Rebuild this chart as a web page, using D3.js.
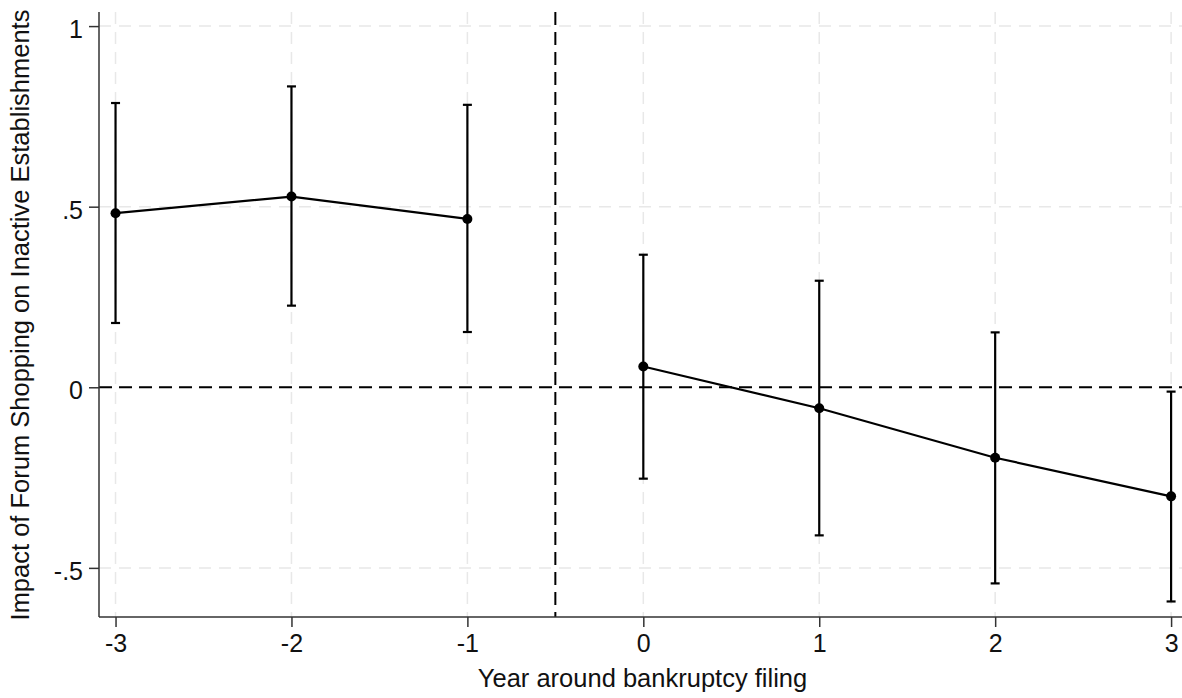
<!DOCTYPE html>
<html>
<head>
<meta charset="utf-8">
<script src="https://cdn.jsdelivr.net/npm/d3@7"></script>
<style>
  body { margin: 0; background: #fff; }
  svg { display: block; }
</style>
</head>
<body>
<svg width="1182" height="698"></svg>
<script>
  // event-study estimates
  var years = [-3, -2, -1, 0, 1, 2, 3]
  var coef  = [0.482, 0.528, 0.466, 0.0575, -0.058, -0.195, -0.302]
  var upper = [0.787, 0.833, 0.782, 0.367, 0.295, 0.152, -0.012]
  var lower = [0.178, 0.226, 0.153, -0.253, -0.410, -0.543, -0.593]
  var yTicks = [-0.5, 0, 0.5, 1]
  var yTickLabels = ["-.5", "0", ".5", "1"]

  var width = 1182
  var height = 698
  var margin = {top: 12, right: 0, bottom: 81, left: 99}

  var x = d3.scaleLinear([-3.094, 3.062], [margin.left, width - margin.right])
  var y = d3.scaleLinear([-0.636, 1.039], [height - margin.bottom, margin.top])

  var data = years.map((d, i) => ({year: d, b: coef[i], hi: upper[i], lo: lower[i]}))

  var svg = d3.select("svg")
    .style("font-family", "'Liberation Sans', Arial, Helvetica, sans-serif")

  // light dashed grid
  var grid = svg.append("g")
    .attr("stroke", "#e8e8e8")
    .attr("stroke-width", 1.5)
    .attr("stroke-dasharray", "12,8")
  grid.selectAll(".gy")
    .data(yTicks)
    .join("line")
    .attr("x1", margin.left).attr("x2", width)
    .attr("y1", d => y(d)).attr("y2", d => y(d))
  grid.selectAll(".gx")
    .data(years)
    .join("line")
    .attr("x1", d => x(d)).attr("x2", d => x(d))
    .attr("y1", margin.top).attr("y2", height - margin.bottom)

  // reference lines
  svg.append("line")
    .attr("x1", margin.left).attr("x2", width)
    .attr("y1", y(0)).attr("y2", y(0))
    .attr("stroke", "#000").attr("stroke-width", 2)
    .attr("stroke-dasharray", "13,7")
  svg.append("line")
    .attr("x1", x(-0.5)).attr("x2", x(-0.5))
    .attr("y1", margin.top).attr("y2", height - margin.bottom)
    .attr("stroke", "#000").attr("stroke-width", 2)
    .attr("stroke-dasharray", "13,7")

  // axes (hyphen minus, as in the original)
  var xAxis = d3.axisBottom(x).tickValues(years).tickSize(10).tickSizeOuter(0)
    .tickFormat(d => String(d))
  var yAxis = d3.axisLeft(y).tickValues(yTicks).tickSize(10).tickSizeOuter(0)
    .tickFormat((d, i) => yTickLabels[i])

  var gx = svg.append("g")
    .attr("transform", `translate(0,${height - margin.bottom})`)
    .call(xAxis)
  var gy = svg.append("g")
    .attr("transform", `translate(${margin.left},0)`)
    .call(yAxis)

  gx.select(".domain").attr("d", `M${margin.left},0H${width}`)
  gy.select(".domain").attr("d", `M0,${margin.top}V${height - margin.bottom}`)

  for (var g of [gx, gy]) {
    g.selectAll(".domain, .tick line").attr("stroke", "#333").attr("stroke-width", 1.5)
    g.selectAll("text").attr("font-size", 25).attr("fill", "#111").attr("font-family", null)
  }
  gx.selectAll(".tick text").attr("dy", 22)
  gy.selectAll(".tick text").attr("x", -16).attr("dy", 11.5)

  // axis titles
  svg.append("text")
    .attr("x", (margin.left + width) / 2 + 2)
    .attr("y", 687)
    .attr("text-anchor", "middle")
    .attr("font-size", 25.5)
    .attr("fill", "#111")
    .text("Year around bankruptcy filing")
  svg.append("text")
    .attr("transform", `translate(28.5,315) rotate(-90)`)
    .attr("text-anchor", "middle")
    .attr("font-size", 25.5)
    .attr("fill", "#111")
    .text("Impact of Forum Shopping on Inactive Establishments")

  // error bars
  var bars = svg.append("g")
    .attr("stroke", "#000")
    .attr("stroke-width", 2.2)
  bars.selectAll(".ci")
    .data(data)
    .join("line")
    .attr("x1", d => x(d.year)).attr("x2", d => x(d.year))
    .attr("y1", d => y(d.lo)).attr("y2", d => y(d.hi))
  bars.selectAll(".cap-hi")
    .data(data)
    .join("line")
    .attr("x1", d => x(d.year) - 4.5).attr("x2", d => x(d.year) + 4.5)
    .attr("y1", d => y(d.hi)).attr("y2", d => y(d.hi))
  bars.selectAll(".cap-lo")
    .data(data)
    .join("line")
    .attr("x1", d => x(d.year) - 4.5).attr("x2", d => x(d.year) + 4.5)
    .attr("y1", d => y(d.lo)).attr("y2", d => y(d.lo))

  // connected estimates, split at the filing year
  var line = d3.line().x(d => x(d.year)).y(d => y(d.b))
  var segments = [data.filter(d => d.year < 0), data.filter(d => d.year >= 0)]
  svg.append("g")
    .selectAll("path")
    .data(segments)
    .join("path")
    .attr("d", line)
    .attr("fill", "none")
    .attr("stroke", "#000")
    .attr("stroke-width", 2.2)

  svg.append("g")
    .selectAll("circle")
    .data(data)
    .join("circle")
    .attr("cx", d => x(d.year))
    .attr("cy", d => y(d.b))
    .attr("r", 5)
    .attr("fill", "#000")
</script>
</body>
</html>
